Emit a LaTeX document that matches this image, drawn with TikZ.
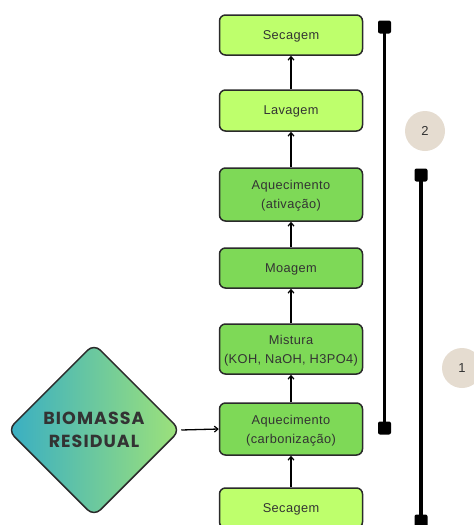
\documentclass[tikz,border=0pt]{standalone}
\usepackage{fontspec}
\setmainfont{Liberation Sans}[LetterSpace=3]
\newfontfamily\popfont{Poppins}[LetterSpace=6]
\usetikzlibrary{arrows.meta,shapes.geometric}
\definecolor{lightg}{HTML}{BEFF6C}
\definecolor{midg}{HTML}{7ED957}
\definecolor{edgec}{HTML}{2A2A2A}
\definecolor{txtc}{HTML}{333333}
\definecolor{beige}{HTML}{E5DCD0}
\definecolor{gleft}{HTML}{38AEC4}
\definecolor{gright}{HTML}{9EE279}
\tikzset{
  stepbox/.style={draw=edgec, line width=1.5pt, rounded corners=6pt, minimum width=143pt,
    text=txtc, font=\fontsize{12.8}{19}\selectfont, align=center, inner sep=0pt, text depth=-1pt},
  lightbox/.style={stepbox, fill=lightg},
  midbox/.style={stepbox, fill=midg},
  flow/.style={draw=black, line width=1.3pt, -{Straight Barb[length=3.5pt,width=6pt,line width=1.2pt]}},
  barline/.style={draw=black, line width=3.5pt},
  barend/.style={fill=black, rounded corners=2pt, minimum size=13pt, inner sep=0pt},
  numcircle/.style={circle, fill=beige, minimum size=40pt, inner sep=0pt, text=txtc, font=\fontsize{13}{13}\selectfont}
}
\begin{document}
\begin{tikzpicture}[x=1pt,y=-1pt]
\useasboundingbox (0,0) rectangle (474,525);
% boxes
\node[lightbox, minimum height=40pt] (s1) at (291,35) {Secagem};
\node[lightbox, minimum height=41pt] (lav) at (291,110.5) {Lavagem};
\node[midbox, minimum height=53pt] (aqa) at (291,194.5) {Aquecimento\\(ativação)};
\node[midbox, minimum height=40pt] (moa) at (291,268) {Moagem};
\node[midbox, minimum height=50pt] (mis) at (291,349) {Mistura\\(KOH, NaOH, H3PO4)};
\node[midbox, minimum height=52pt] (aqc) at (291,429) {Aquecimento\\(carbonização)};
\node[lightbox, minimum height=40pt] (s2) at (291,508) {Secagem};
% diamond
\node[diamond, aspect=1, minimum size=173pt, inner sep=0pt, draw=edgec, line width=1.5pt,
  rounded corners=9pt, left color=gleft, right color=gright, text=txtc,
  font=\popfont\bfseries\fontsize{17.5}{22.5}\selectfont, align=center] (bio) at (94,430) {BIOMASSA\\RESIDUAL};
% arrows
\draw[flow] (s2.north) -- (aqc.south);
\draw[flow] (aqc.north) -- (mis.south);
\draw[flow] (mis.north) -- (moa.south);
\draw[flow] (moa.north) -- (aqa.south);
\draw[flow] (aqa.north) -- (lav.south);
\draw[flow] (lav.north) -- (s1.south);
\draw[flow] (bio.east) -- (aqc.west);
% bars
\node[barend] (b2t) at (384.5,27) {};
\node[barend] (b2b) at (384.5,428) {};
\draw[barline] (b2t.center) -- (b2b.center);
\node[barend] (b1t) at (421,175) {};
\node[barend] (b1b) at (421,521) {};
\draw[barline] (b1t.center) -- (b1b.center);
% numbers
\node[numcircle] (n2) at (425,131) {2};
\node[numcircle] (n1) at (462,368) {1};
\end{tikzpicture}
\end{document}
